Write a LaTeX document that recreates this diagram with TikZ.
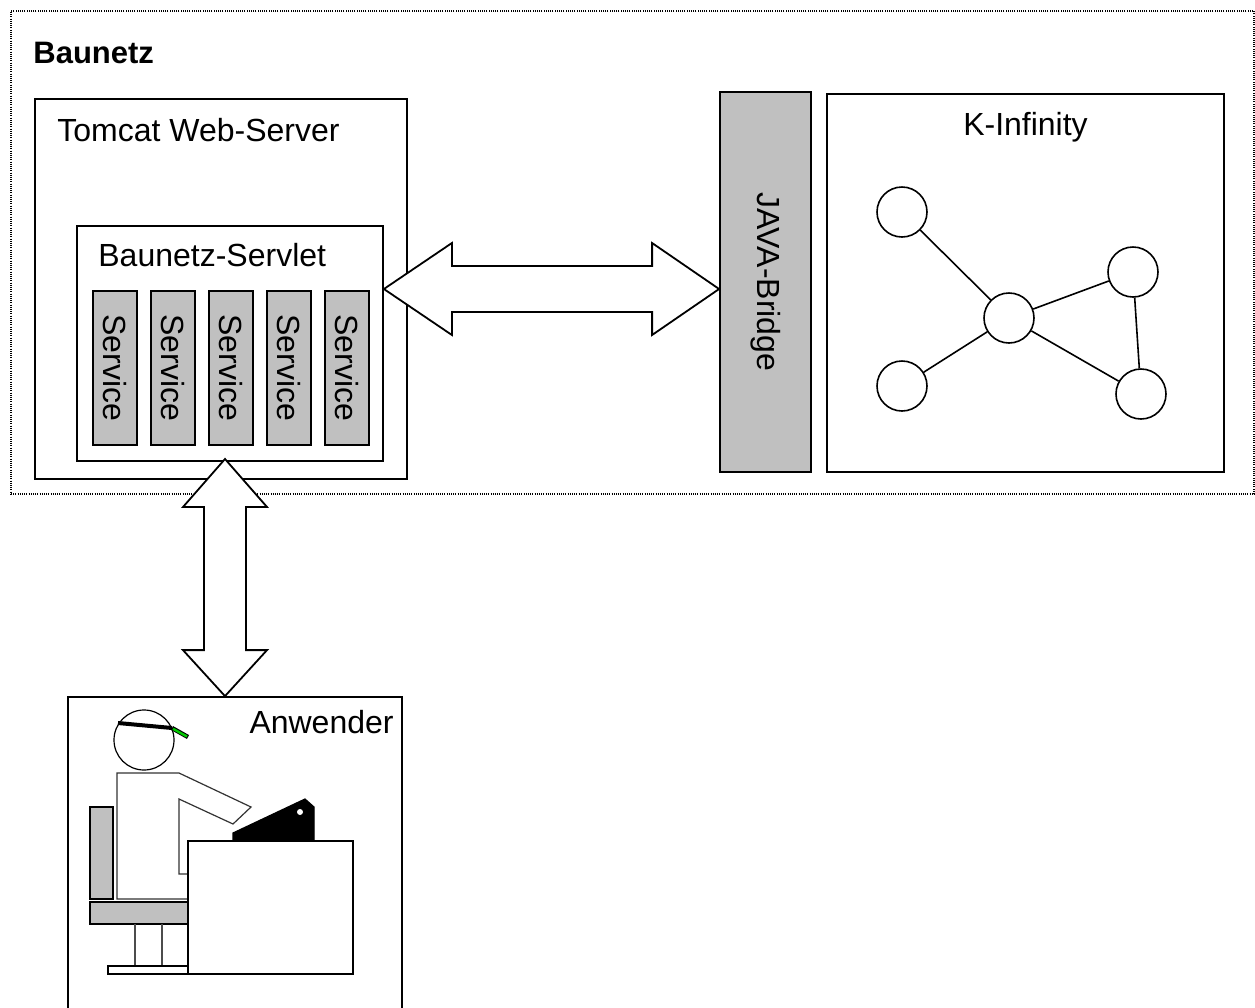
\documentclass[tikz,border=0pt]{standalone}
\usepackage{fontspec}
\setmainfont{Liberation Sans}
\usepackage{tikz}
\usetikzlibrary{shapes,arrows,positioning,calc}
\definecolor{grau}{HTML}{C0C0C0}
\definecolor{gruen}{HTML}{00C800}
\tikzstyle{kasten} = [draw=black, fill=white, line width=0.9pt, rectangle, inner sep=0pt]
\tikzstyle{dienst} = [draw=black, fill=grau, line width=0.9pt, rectangle, inner sep=0pt, minimum width=22pt, minimum height=77pt]
\tikzstyle{schrift} = [inner sep=0pt, font=\fontsize{16}{19}\selectfont]
\tikzstyle{knoten} = [draw=black, fill=white, line width=0.8pt, circle, minimum size=25pt, inner sep=0pt]
\tikzstyle{pfeil} = [draw=black, fill=white, line width=0.9pt, line join=miter]
\tikzstyle{figur} = [draw=black, line width=0.6pt]

\begin{document}
\begin{tikzpicture}[x=0.5pt, y=-0.5pt]
\useasboundingbox (0,0) rectangle (1255,1008);
% Baunetz-Rahmen
\node[draw=black, line width=0.8pt, dash pattern=on 0.5pt off 0.6pt, minimum width=621.5pt, minimum height=241.5pt, inner sep=0pt] (baunetz) at (632.5,252.5) {};
\node[schrift, font=\fontsize{15.5}{19}\selectfont\bfseries, anchor=base west] (baunetzlabel) at (33,63) {Baunetz};
% Tomcat und Servlet
\node[kasten, minimum width=186pt, minimum height=190pt] (tomcat) at (221,289) {};
\node[schrift, anchor=base west] (tomcatlabel) at (57,141) {Tomcat Web-Server};
\node[kasten, minimum width=153pt, minimum height=117.5pt] (servlet) at (230,343.5) {};
\node[schrift, anchor=base west] (servletlabel) at (98,266) {Baunetz-Servlet};
\foreach \i/\x in {1/115,2/173,3/231,4/289,5/347}{
  \node[dienst] (dienst\i) at (\x,368) {};
  \node[schrift, rotate=-90] at (dienst\i) {Service};
}
% JAVA-Bridge und K-Infinity
\node[dienst, minimum width=45.5pt, minimum height=190pt] (bridge) at (765.5,282) {};
\node[schrift, rotate=-90] at (bridge) {JAVA-Bridge};
\node[kasten, minimum width=198.5pt, minimum height=189pt] (kinf) at (1025.5,283) {};
\node[schrift, anchor=base] (kinflabel) at (1025.5,135) {K-Infinity};
\node[knoten] (n1) at (902,212) {};
\node[knoten] (n2) at (1009,318) {};
\node[knoten] (n3) at (1133,272) {};
\node[knoten] (n4) at (902,386) {};
\node[knoten] (n5) at (1141,394) {};
\draw[line width=0.8pt] (n1) -- (n2) (n4) -- (n2) (n2) -- (n3) (n2) -- (n5) (n3) -- (n5);
% Anwender
\node[kasten, minimum width=167pt, minimum height=158pt] (anwender) at (235,855) {};
\node[schrift, anchor=base east] (anwenderlabel) at (394,733) {Anwender};
% Stuhl
\draw[figur, fill=grau] (90,807) rectangle (113,899);
\draw[figur, fill=grau] (90,902) rectangle (200,924);
\draw[figur, draw=black!70] (135,924) -- (135,966) (162,924) -- (162,966);
\draw[figur, fill=white] (108,966) rectangle (200,974);
% Koerper
\draw[figur, draw=black!80, fill=white] (117,773) -- (179,773) -- (251,807) -- (233,824) -- (179,799)
  -- (179,874) -- (200,874) -- (200,899) -- (117,899) -- cycle;
% Tisch und Bildschirm
\draw[figur, fill=white] (188,841) rectangle (353,974);
\draw[figur, fill=black] (233,841) -- (233,833) -- (305,799) -- (314,807) -- (314,841) -- cycle;
\fill[white] (300,812) circle (3);
% Kopf
\draw[figur, fill=white] (144,740) circle (30);
\draw[line width=2pt] (118,723) -- (172,728);
\draw[line width=2.2pt, line cap=butt] (172,728) -- (188,737);
\draw[gruen, line width=1.2pt] (173,728.8) -- (187,736.5);
% Pfeile
\coordinate (hl) at (servlet.east |- 0,289);
\coordinate (hr) at (bridge.west |- 0,289);
\draw[pfeil] (hl) -- ++(68,-46) -- ++(0,23) -- ($(hr)+(-67,-23)$) -- ++(0,-23) -- (hr) -- ++(-67,46)
  -- ++(0,-23) -- ($(hl)+(68,23)$) -- ++(0,23) -- cycle;
\coordinate (vt) at (225,459);
\coordinate (vb) at (vt |- anwender.north);
\draw[pfeil] (vt) -- ++(42,48) -- ++(-21,0) -- ($(vb)+(21,-46)$) -- ++(21,0) -- (vb) -- ++(-42,-46)
  -- ++(21,0) -- ($(vt)+(-21,48)$) -- ++(-21,0) -- cycle;
\end{tikzpicture}
\end{document}
